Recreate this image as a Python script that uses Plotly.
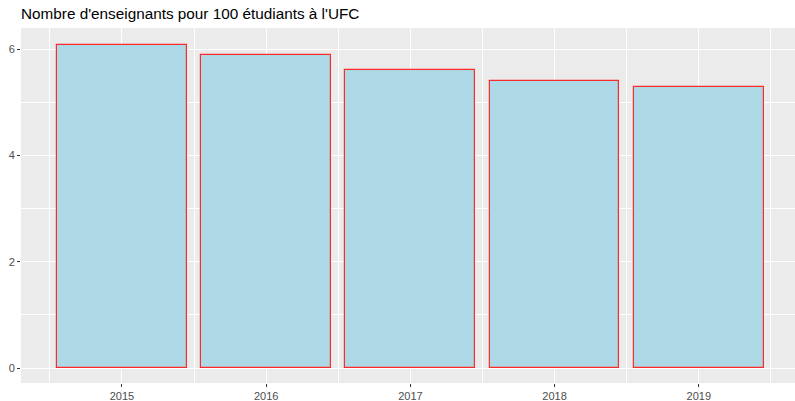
import plotly.graph_objects as go

years = ["2015", "2016", "2017", "2018", "2019"]
ratio = [6.07, 5.89, 5.60, 5.40, 5.29]
y_ticks = [0, 2, 4, 6]

xpos = list(range(len(years)))

fig = go.Figure()
fig.add_trace(go.Bar(
    x=xpos, y=ratio, width=0.9,
    marker=dict(color="#ADD8E6", line=dict(color="#FF2A2A", width=1.2)),
    hoverinfo="x+y",
))

axis_common = dict(
    showgrid=True, gridcolor="white", gridwidth=1.1,
    zeroline=False, showline=False,
    ticks="outside", ticklen=3, tickwidth=1, tickcolor="#333333",
    tickfont=dict(family="Liberation Sans, Arial, sans-serif", size=11, color="#4D4D4D"),
)

fig.update_layout(
    width=795, height=401,
    margin=dict(l=21, r=0, t=28, b=18),
    paper_bgcolor="white", plot_bgcolor="#EBEBEB",
    showlegend=False,
    bargap=0,
    title=dict(
        text="Nombre d'enseignants pour 100 étudiants à l'UFC",
        font=dict(family="Liberation Sans, Arial, sans-serif", size=15.3, color="black"),
        xref="container", yref="container",
        x=21/795, xanchor="left", y=1-14/401, yanchor="middle",
    ),
    xaxis=dict(
        **axis_common,
        automargin=False,
        range=[-0.70, 4.667],
        tickmode="array", tickvals=xpos, ticktext=years,
        minor=dict(tickmode="array", tickvals=[-0.5, 0.5, 1.5, 2.5, 3.5, 4.5],
                   showgrid=True, gridcolor="white", gridwidth=0.5, ticks=""),
    ),
    yaxis=dict(
        **axis_common,
        automargin=False,
        range=[-0.282, 6.395],
        tickmode="array", tickvals=y_ticks, ticktext=[str(v) for v in y_ticks],
        minor=dict(tickmode="array", tickvals=[1, 3, 5],
                   showgrid=True, gridcolor="white", gridwidth=0.5, ticks=""),
    ),
)

fig.write_html("out.html",
               config={"displayModeBar": False},
               post_script="document.body.style.margin='0';document.body.style.overflow='hidden';")
